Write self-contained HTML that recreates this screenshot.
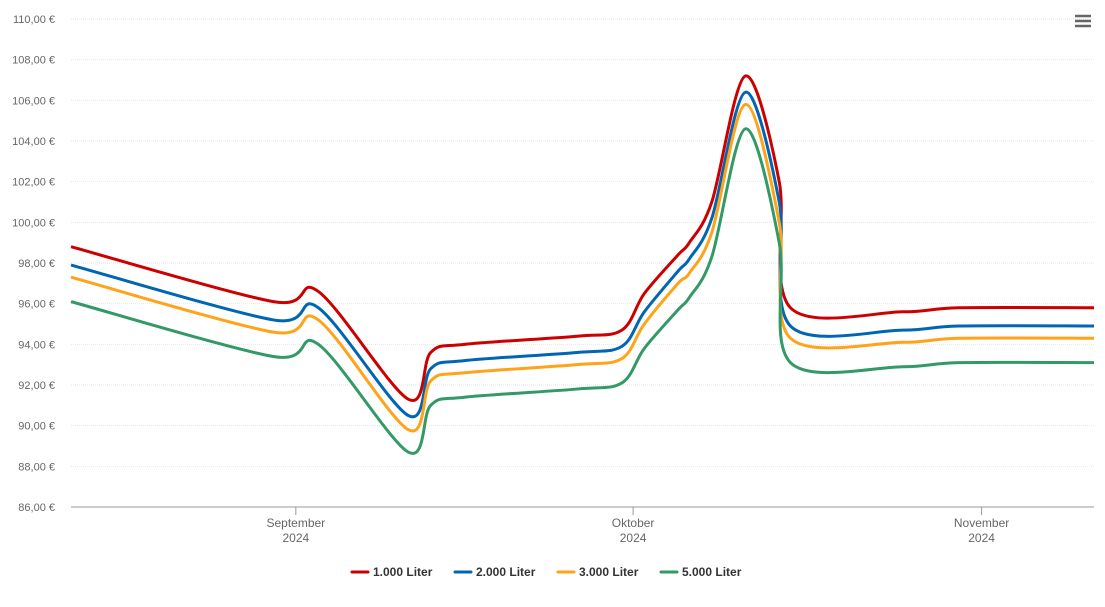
<!DOCTYPE html>
<html><head><meta charset="utf-8"><style>
body{margin:0;background:#fff;font-family:"Liberation Sans",sans-serif}
svg text{font-family:"Liberation Sans",sans-serif}
</style></head><body>
<svg width="1105" height="602" viewBox="0 0 1105 602" xmlns="http://www.w3.org/2000/svg">
<g id="grid"></g>
<g id="yaxis"></g>
<g id="xaxis"></g>
<g id="series"></g>
<g stroke="#666" stroke-width="2.5">
<line x1="1075" y1="16" x2="1091" y2="16"/><line x1="1075" y1="21" x2="1091" y2="21"/><line x1="1075" y1="26" x2="1091" y2="26"/>
</g>
<g id="legend"></g>
</svg>
<script>
const yTicks=[86,88,90,92,94,96,98,100,102,104,106,108,110];
const xTickDays=[20,50,81];
const xTickLabels=[["September","2024"],["Oktober","2024"],["November","2024"]];
const days=[0,18,22,30,32,35,45,49,51,54,55,57,60,63,64,74,79,91];
const s1000=[98.8,96.1,96.6,91.3,93.6,94.0,94.4,94.7,96.5,98.4,99.0,101,107.2,102,95.8,95.6,95.8,95.8];
const s2000=[97.9,95.2,95.8,90.5,92.8,93.2,93.6,93.9,95.6,97.6,98.2,100.2,106.4,101,94.9,94.7,94.9,94.9];
const s3000=[97.3,94.6,95.2,89.8,92.2,92.6,93.0,93.3,95.0,97.0,97.5,99.5,105.8,100,94.3,94.1,94.3,94.3];
const s5000=[96.1,93.4,94.0,88.7,91.0,91.4,91.8,92.1,93.8,95.7,96.3,98.3,104.6,99,93.1,92.9,93.1,93.1];
const seriesNames=["1.000 Liter","2.000 Liter","3.000 Liter","5.000 Liter"];
const colors=["#cc0000","#0066b3","#ffa31a","#339966"];
const NS="http://www.w3.org/2000/svg";
const L=71,R=1094,T=19,B=507;
const xS=d=>L+(d-0)*(R-L)/91;
const yS=v=>B-(v-86)*(B-T)/24;
function mk(tag,attrs,parent){const e=document.createElementNS(NS,tag);for(const k in attrs)e.setAttribute(k,attrs[k]);parent.appendChild(e);return e;}
const grid=document.getElementById('grid'),ya=document.getElementById('yaxis'),xa=document.getElementById('xaxis'),sg=document.getElementById('series'),lg=document.getElementById('legend');
yTicks.forEach(v=>{
 const ln=mk('line',{x1:L,x2:R,y1:yS(v),y2:yS(v),stroke:v===86?'#999':'#e6e6e6','stroke-width':1,'stroke-dasharray':v===86?'':'1,1'},grid);
 
 
 const t=mk('text',{x:55,y:yS(v)+4,'text-anchor':'end','font-size':11,fill:'#666'},ya);
 t.textContent=v.toFixed(2).replace('.',',')+' €';
 
 
});
xTickDays.forEach((d,i)=>{
 const tk=mk('line',{x1:xS(d),x2:xS(d),y1:B,y2:B+8,stroke:'#999'},xa);
 
 
 xTickLabels[i].forEach((s,j)=>{
  const t=mk('text',{x:xS(d),y:B+20+j*15,'text-anchor':'middle','font-size':12,fill:'#666'},xa);
  t.textContent=s;
  
  
 });
});
function path(vals){
 const p=days.map((d,i)=>[xS(d),yS(vals[i])]);
 let s='M'+p[0][0]+','+p[0][1];
 for(let i=0;i<p.length-1;i++){
  const p0=p[i-1]||p[i],p1=p[i],p2=p[i+1],p3=p[i+2]||p2;
  const t=0.16;
  const c1=[p1[0]+(p2[0]-p0[0])*t,p1[1]+(p2[1]-p0[1])*t];
  const c2=[p2[0]-(p3[0]-p1[0])*t,p2[1]-(p3[1]-p1[1])*t];
  s+=`C${c1[0]},${c1[1]} ${c2[0]},${c2[1]} ${p2[0]},${p2[1]}`;
 }
 return s;
}
[s1000,s2000,s3000,s5000].forEach((vals,i)=>{
 const pe=mk('path',{d:path(vals),fill:'none',stroke:colors[i],'stroke-width':3,'stroke-linejoin':'round'},sg);
 
 
});
const lx=[352,455,558,661];
seriesNames.forEach((n,i)=>{
 const g=mk('g',{},lg);
 
 
 mk('line',{x1:lx[i],x2:lx[i]+16,y1:572,y2:572,stroke:colors[i],'stroke-width':3,'stroke-linecap':'round'},g);
 const t=mk('text',{x:lx[i]+21,y:576,'font-size':12,'font-weight':'bold',fill:'#333'},g);
 t.textContent=n;
});
</script>
</body></html>
